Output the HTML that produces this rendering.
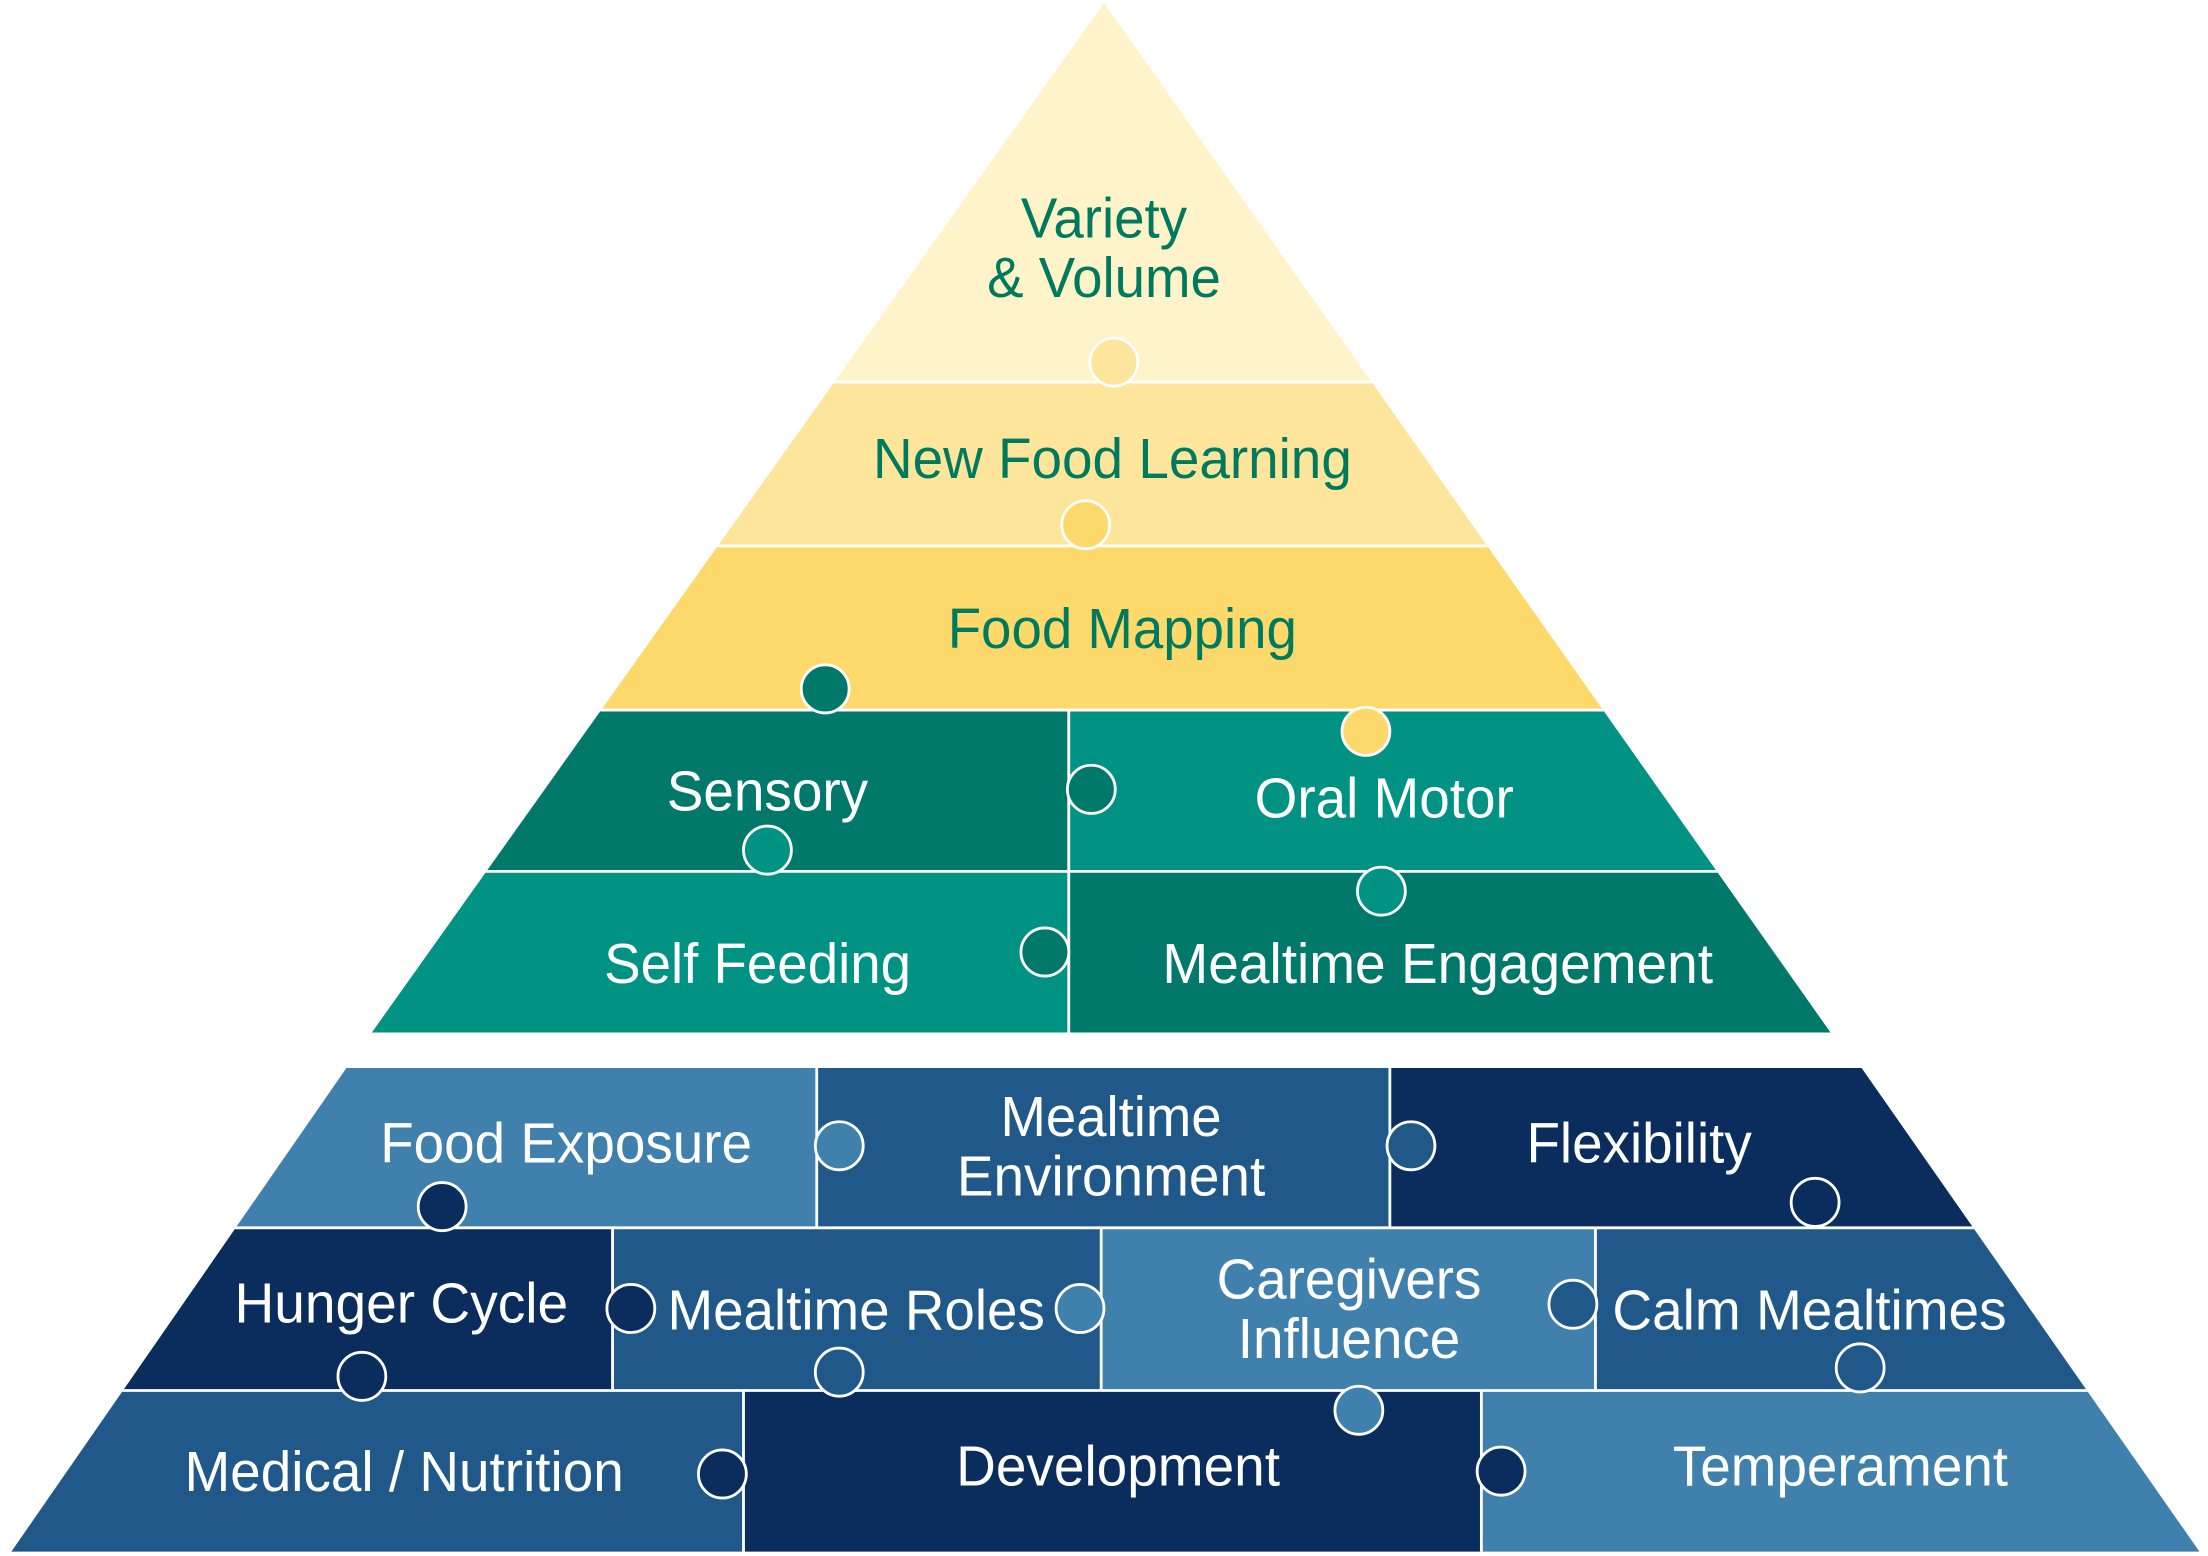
<!DOCTYPE html>
<html><head><meta charset="utf-8"><style>
html,body{margin:0;padding:0;background:#fff;width:2208px;height:1556px;overflow:hidden}
svg{display:block}
text{font-family:"Liberation Sans",sans-serif;font-size:40px;text-anchor:middle}
.g{fill:#007A5E}.w{fill:#fff}
</style></head><body>
<svg width="2208" height="1556" viewBox="0 0 1568 1100" preserveAspectRatio="none" xmlns="http://www.w3.org/2000/svg">
<defs>
<clipPath id="top"><polygon points="784,2 264,730 1300,730"/></clipPath>
<clipPath id="bot"><polygon points="246,755 1322,755 1562,1097 8,1097"/></clipPath>
</defs>
<g clip-path="url(#top)">
<rect x="0" y="0" width="1568" height="270" fill="#FEF3C9"/>
<rect x="0" y="270" width="1568" height="116" fill="#FDE69B"/>
<rect x="0" y="386" width="1568" height="116" fill="#FCD96A"/>
<rect x="0" y="502" width="758" height="114" fill="#00796B"/>
<rect x="758" y="502" width="810" height="114" fill="#009383"/>
<rect x="0" y="616" width="758" height="114" fill="#009383"/>
<rect x="758" y="616" width="810" height="114" fill="#00796B"/>
<g stroke="#fff" stroke-width="2">
<line x1="0" y1="270" x2="1568" y2="270"/><line x1="0" y1="386" x2="1568" y2="386"/>
<line x1="0" y1="502" x2="1568" y2="502"/><line x1="0" y1="616" x2="1568" y2="616"/>
<line x1="759" y1="502" x2="759" y2="730"/>
</g>
<g stroke="#fff" stroke-width="2">
<circle cx="791" cy="256" r="17" fill="#FDE69B"/>
<circle cx="771" cy="371" r="17" fill="#FCD96A"/>
<circle cx="586" cy="487" r="17" fill="#00796B"/>
<circle cx="970" cy="517" r="17" fill="#FCD96A"/>
<circle cx="775" cy="558" r="17" fill="#00796B"/>
<circle cx="545" cy="601" r="17" fill="#009383"/>
<circle cx="981" cy="630" r="17" fill="#009383"/>
<circle cx="742" cy="673" r="17" fill="#00796B"/>
</g>
</g>
<g clip-path="url(#bot)">
<rect x="0" y="755" width="580" height="113" fill="#4080AC"/>
<rect x="580" y="755" width="407" height="113" fill="#1F5889"/>
<rect x="987" y="755" width="600" height="113" fill="#0A2D5E"/>
<rect x="0" y="868" width="435" height="115" fill="#0A2D5E"/>
<rect x="435" y="868" width="347" height="115" fill="#1F5889"/>
<rect x="782" y="868" width="351" height="115" fill="#4080AC"/>
<rect x="1133" y="868" width="450" height="115" fill="#1F5889"/>
<rect x="0" y="983" width="528" height="120" fill="#1F5889"/>
<rect x="528" y="983" width="524" height="120" fill="#0A2D5E"/>
<rect x="1052" y="983" width="520" height="120" fill="#4080AC"/>
<g stroke="#fff" stroke-width="2">
<line x1="0" y1="868" x2="1568" y2="868"/><line x1="0" y1="983" x2="1568" y2="983"/>
<line x1="580" y1="755" x2="580" y2="868"/><line x1="987" y1="755" x2="987" y2="868"/>
<line x1="435" y1="868" x2="435" y2="983"/><line x1="782" y1="868" x2="782" y2="983"/><line x1="1133" y1="868" x2="1133" y2="983"/>
<line x1="528" y1="983" x2="528" y2="1100"/><line x1="1052" y1="983" x2="1052" y2="1100"/>
</g>
<g stroke="#fff" stroke-width="2">
<circle cx="596" cy="810" r="17" fill="#4080AC"/>
<circle cx="314" cy="853" r="17" fill="#0A2D5E"/>
<circle cx="1002" cy="810" r="17" fill="#1F5889"/>
<circle cx="1289" cy="850" r="17" fill="#0A2D5E"/>
<circle cx="448" cy="925" r="17" fill="#0A2D5E"/>
<circle cx="767" cy="925" r="17" fill="#4080AC"/>
<circle cx="1117" cy="922" r="17" fill="#1F5889"/>
<circle cx="257" cy="973" r="17" fill="#0A2D5E"/>
<circle cx="596" cy="970" r="17" fill="#1F5889"/>
<circle cx="965" cy="997" r="17" fill="#4080AC"/>
<circle cx="1321" cy="967" r="17" fill="#1F5889"/>
<circle cx="513" cy="1042" r="17" fill="#0A2D5E"/>
<circle cx="1066" cy="1040" r="17" fill="#0A2D5E"/>
</g>
</g>
<g>
<text class="g" x="784" y="168" textLength="118" lengthAdjust="spacingAndGlyphs">Variety</text>
<text class="g" x="784" y="210" textLength="166" lengthAdjust="spacingAndGlyphs">&amp; Volume</text>
<text class="g" x="790" y="338" textLength="340" lengthAdjust="spacingAndGlyphs">New Food Learning</text>
<text class="g" x="797" y="458" textLength="248" lengthAdjust="spacingAndGlyphs">Food Mapping</text>
<text class="w" x="545" y="573" textLength="143" lengthAdjust="spacingAndGlyphs">Sensory</text>
<text class="w" x="983" y="578" textLength="184" lengthAdjust="spacingAndGlyphs">Oral Motor</text>
<text class="w" x="538" y="695" textLength="218" lengthAdjust="spacingAndGlyphs">Self Feeding</text>
<text class="w" x="1021" y="695" textLength="391" lengthAdjust="spacingAndGlyphs">Mealtime Engagement</text>
<text class="w" x="402" y="822" textLength="264" lengthAdjust="spacingAndGlyphs">Food Exposure</text>
<text class="w" x="789" y="803" textLength="157" lengthAdjust="spacingAndGlyphs">Mealtime</text>
<text class="w" x="789" y="845" textLength="219" lengthAdjust="spacingAndGlyphs">Environment</text>
<text class="w" x="1164" y="822" textLength="160" lengthAdjust="spacingAndGlyphs">Flexibility</text>
<text class="w" x="285" y="935" textLength="237" lengthAdjust="spacingAndGlyphs">Hunger Cycle</text>
<text class="w" x="608" y="940" textLength="268" lengthAdjust="spacingAndGlyphs">Mealtime Roles</text>
<text class="w" x="958" y="918" textLength="188" lengthAdjust="spacingAndGlyphs">Caregivers</text>
<text class="w" x="958" y="960" textLength="158" lengthAdjust="spacingAndGlyphs">Influence</text>
<text class="w" x="1285" y="940" textLength="280" lengthAdjust="spacingAndGlyphs">Calm Mealtimes</text>
<text class="w" x="287" y="1054" textLength="312" lengthAdjust="spacingAndGlyphs">Medical / Nutrition</text>
<text class="w" x="794" y="1050" textLength="230" lengthAdjust="spacingAndGlyphs">Development</text>
<text class="w" x="1307" y="1050" textLength="238" lengthAdjust="spacingAndGlyphs">Temperament</text>
</g>
</svg>
</body></html>
